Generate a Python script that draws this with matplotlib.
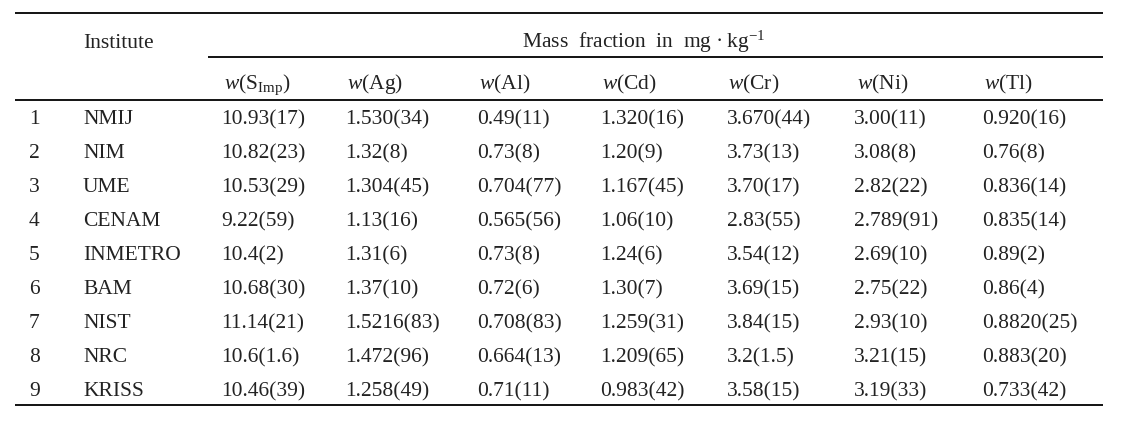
import matplotlib
matplotlib.use("Agg")
import matplotlib.pyplot as plt

plt.rcParams['font.family'] = ['Liberation Serif', 'DejaVu Serif']
plt.rcParams['mathtext.fontset'] = 'custom'
plt.rcParams['mathtext.rm'] = 'Liberation Serif'
plt.rcParams['mathtext.it'] = 'Liberation Serif:italic'

numbers = ['1', '2', '3', '4', '5', '6', '7', '8', '9']
institutes = ['NMIJ', 'NIM', 'UME', 'CENAM', 'INMETRO', 'BAM', 'NIST', 'NRC', 'KRISS']
headers = [r'$\mathit{w}$(S$_{\rm Imp}$)', r'$\mathit{w}$(Ag)', r'$\mathit{w}$(Al)',
           r'$\mathit{w}$(Cd)', r'$\mathit{w}$(Cr)', r'$\mathit{w}$(Ni)', r'$\mathit{w}$(Tl)']
s_imp = ['10.93(17)', '10.82(23)', '10.53(29)', '9.22(59)', '10.4(2)', '10.68(30)', '11.14(21)', '10.6(1.6)', '10.46(39)']
ag = ['1.530(34)', '1.32(8)', '1.304(45)', '1.13(16)', '1.31(6)', '1.37(10)', '1.5216(83)', '1.472(96)', '1.258(49)']
al = ['0.49(11)', '0.73(8)', '0.704(77)', '0.565(56)', '0.73(8)', '0.72(6)', '0.708(83)', '0.664(13)', '0.71(11)']
cd = ['1.320(16)', '1.20(9)', '1.167(45)', '1.06(10)', '1.24(6)', '1.30(7)', '1.259(31)', '1.209(65)', '0.983(42)']
cr = ['3.670(44)', '3.73(13)', '3.70(17)', '2.83(55)', '3.54(12)', '3.69(15)', '3.84(15)', '3.2(1.5)', '3.58(15)']
ni = ['3.00(11)', '3.08(8)', '2.82(22)', '2.789(91)', '2.69(10)', '2.75(22)', '2.93(10)', '3.21(15)', '3.19(33)']
tl = ['0.920(16)', '0.76(8)', '0.836(14)', '0.835(14)', '0.89(2)', '0.86(4)', '0.8820(25)', '0.883(20)', '0.733(42)']
columns = [s_imp, ag, al, cd, cr, ni, tl]

fig = plt.figure(figsize=(11.27, 4.25), dpi=100)
ax = fig.add_axes([0, 0, 1, 1])
ax.set_xlim(0, 1127)
ax.set_ylim(425, 0)
ax.axis('off')

fs = 15.5
tc = '#222222'
col_x = [221, 345, 477, 600, 727, 854, 982]
head_x = [224, 347, 479, 602, 728, 857, 984]
row_y = [124 + 34 * i for i in range(9)]

# rules
ax.plot([15, 1103], [13, 13], color='black', lw=1.3, solid_capstyle='butt')
ax.plot([208, 1103], [57, 57], color='black', lw=1.3, solid_capstyle='butt')
ax.plot([15, 1103], [100, 100], color='black', lw=1.3, solid_capstyle='butt')
ax.plot([15, 1103], [405, 405], color='black', lw=1.3, solid_capstyle='butt')

ax.text(83, 48, 'Institute', fontsize=fs, va='baseline', ha='left', color=tc)
ax.text(522, 48, r'Mass  fraction  in  mg $\bullet$ kg$^{-1}$', fontsize=fs, va='baseline', ha='left', color=tc)

for x, h in zip(head_x, headers):
    ax.text(x, 89, h, fontsize=fs, va='baseline', ha='left', color=tc)

for i, y in enumerate(row_y):
    ax.text(29, y, numbers[i], fontsize=fs, va='baseline', ha='left', color=tc)
    ax.text(83, y, institutes[i], fontsize=fs, va='baseline', ha='left', color=tc)
    for x, col in zip(col_x, columns):
        ax.text(x, y, col[i], fontsize=fs, va='baseline', ha='left', color=tc)

fig.savefig('out.png', dpi=100)
